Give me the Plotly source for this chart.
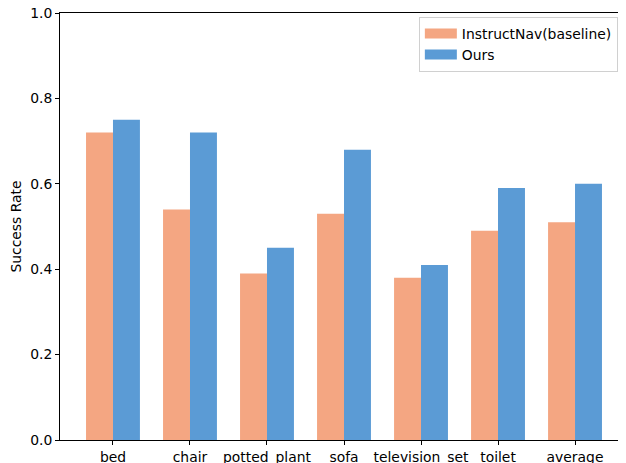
import plotly.graph_objects as go

categories = ["bed", "chair", "potted_plant", "sofa", "television_set", "toilet", "average"]
baseline = [0.72, 0.54, 0.39, 0.53, 0.38, 0.49, 0.51]
ours = [0.75, 0.72, 0.45, 0.68, 0.41, 0.59, 0.60]
series_names = ["InstructNav(baseline)", "Ours"]
series_colors = ["#F4A682", "#5B9BD5"]
y_ticks = [0.0, 0.2, 0.4, 0.6, 0.8, 1.0]

x = list(range(len(categories)))
fig = go.Figure()
for name, vals, col in zip(series_names, [baseline, ours], series_colors):
    fig.add_bar(x=x, y=vals, name=name, marker_color=col, marker_line_width=0,
                showlegend=False)
# legend entries drawn as wide patches (matplotlib-like)
for name, col in zip(series_names, series_colors):
    fig.add_scatter(x=[None], y=[None], mode="lines", name=name,
                    line=dict(color=col, width=10), showlegend=True)

# page body has an 8px default margin, so the figure is sized/offset to compensate
font = dict(family="DejaVu Sans", size=13.9, color="black")
fig.update_layout(
    width=618, height=455,
    margin=dict(l=52, r=0, t=5, b=23),
    plot_bgcolor="white", paper_bgcolor="white",
    barmode="group", bargap=0.3, bargroupgap=0,
    font=font,
    showlegend=True,
    legend=dict(x=0.634, y=0.991, xanchor="left", yanchor="top",
                bordercolor="#d0d0d0", borderwidth=1, bgcolor="white",
                font=dict(family="DejaVu Sans", size=13.9, color="black"),
                tracegroupgap=0, itemwidth=32),
    xaxis=dict(range=[-0.688, 6.662], tickmode="array", tickvals=x, ticktext=categories,
               showline=True, linecolor="black", linewidth=1, mirror=True,
               ticks="outside", ticklen=4, tickcolor="black", showgrid=False, zeroline=False,
               automargin=False, tickfont=dict(color="black"), ticklabeloverflow="allow"),
    yaxis=dict(range=[0, 1], tickmode="array", tickvals=y_ticks,
               ticktext=[f"{v:.1f}" for v in y_ticks],
               showline=True, linecolor="black", linewidth=1,
               ticks="outside", ticklen=4, tickcolor="black", showgrid=False, zeroline=False,
               automargin=False, tickfont=dict(color="black"), ticklabeloverflow="allow",
               title=dict(text="Success Rate", standoff=7,
                          font=dict(family="DejaVu Sans", size=13.9, color="black"))),
)
fig.write_html("out.html")
